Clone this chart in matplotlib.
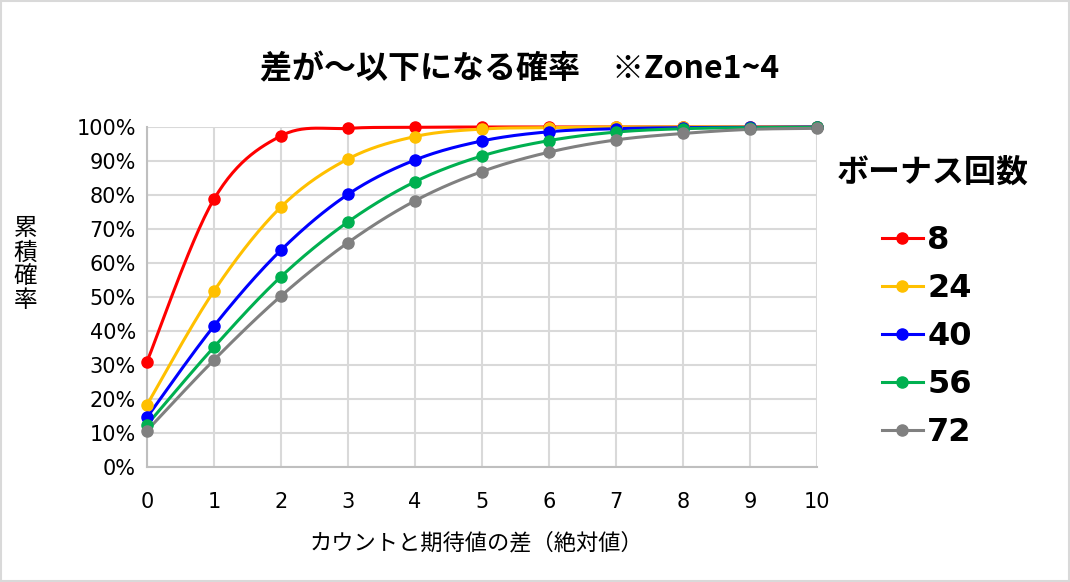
import numpy as np
import matplotlib
matplotlib.use('Agg')
import matplotlib.pyplot as plt
from matplotlib.patches import Rectangle

plt.rcParams['font.family'] = ['Noto Sans CJK JP', 'DejaVu Sans']

diff = [0, 1, 2, 3, 4, 5, 6, 7, 8, 9, 10]
bonus_counts = ['8', '24', '40', '56', '72']
prob_8 = [31.0, 78.8, 97.4, 99.6, 99.9, 100.0, 100.0, 100.0, 100.0, 100.0, 100.0]
prob_24 = [18.3, 51.8, 76.5, 90.6, 97.2, 99.4, 99.8, 100.0, 100.0, 100.0, 100.0]
prob_40 = [14.6, 41.5, 63.8, 80.2, 90.3, 95.9, 98.6, 99.5, 99.8, 99.9, 100.0]
prob_56 = [12.4, 35.3, 56.0, 72.1, 83.9, 91.5, 96.0, 98.5, 99.5, 99.8, 99.9]
prob_72 = [10.7, 31.5, 50.3, 66.0, 78.3, 86.9, 92.6, 96.2, 98.1, 99.3, 99.6]
colors = ['#ff0000', '#ffc000', '#0000ff', '#00b050', '#808080']


def smooth(xs, ys, n=30):
    # Excel-like smoothed line (Catmull-Rom bezier through the points)
    p = np.column_stack([xs, ys]).astype(float)
    p = np.vstack([p[0], p, p[-1]])
    out = []
    t = np.linspace(0, 1, n)[:, None]
    for i in range(1, len(p) - 2):
        p0, p1, p2, p3 = p[i - 1], p[i], p[i + 1], p[i + 2]
        c1 = p1 + (p2 - p0) / 6
        c2 = p2 - (p3 - p1) / 6
        seg = ((1 - t) ** 3) * p1 + 3 * ((1 - t) ** 2) * t * c1 + 3 * (1 - t) * t ** 2 * c2 + t ** 3 * p2
        out.append(seg)
    out = np.vstack(out)
    return out[:, 0], out[:, 1]


fig = plt.figure(figsize=(10.7, 5.82), dpi=100)
ax = fig.add_axes([0.1374, 0.1976, 0.6262, 0.5842])

series = [prob_8, prob_24, prob_40, prob_56, prob_72]
handles = []
for vals, col, lab in zip(series, colors, bonus_counts):
    sx, sy = smooth(diff, vals)
    ax.plot(sx, sy, color=col, lw=2.2, zorder=3, clip_on=False)
    ax.plot(diff, vals, 'o', color=col, ms=8, zorder=4, clip_on=False)
    h, = ax.plot([], [], color=col, lw=2.2, marker='o', ms=8, label=lab)
    handles.append(h)

ax.set_xlim(0, 10)
ax.set_ylim(0, 100)
ax.set_xticks(diff)
ax.set_yticks(range(0, 101, 10))
ax.set_yticklabels([f'{v}%' for v in range(0, 101, 10)])
for lab in ax.get_xticklabels() + ax.get_yticklabels():
    lab.set_family('DejaVu Sans')
    lab.set_fontsize(15)
ax.tick_params(length=0)
ax.tick_params(axis='y', pad=8)
ax.tick_params(axis='x', pad=18)
ax.grid(True, color='#d9d9d9', lw=1.5)
ax.set_axisbelow(True)
for s in ['top', 'right']:
    ax.spines[s].set_visible(False)
for s in ['left', 'bottom']:
    ax.spines[s].set_color('#bfbfbf')
    ax.spines[s].set_linewidth(1.5)

fig.text(0.486, 0.88, '差が～以下になる確率　※Zone1~4', ha='center', va='center',
         fontsize=23, fontweight='bold')
fig.text(0.024, 0.545, '累\n積\n確\n率', ha='center', va='center', fontsize=17, linespacing=1.05)
fig.text(0.445, 0.067, 'カウントと期待値の差（絶対値）', ha='center', va='center', fontsize=16)
fig.text(0.872, 0.703, 'ボーナス回数', ha='center', va='center', fontsize=23, fontweight='bold')

leg = fig.legend(handles=handles, loc='upper left', bbox_to_anchor=(0.824, 0.613),
                 frameon=False, handlelength=1.28, handletextpad=0.15, labelspacing=0.53,
                 borderpad=0, borderaxespad=0,
                 prop={'size': 23, 'weight': 'bold', 'family': 'DejaVu Sans'})

fig.patches.append(Rectangle((0.001, 0.001), 0.998, 0.997, transform=fig.transFigure,
                             fill=False, edgecolor='#d9d9d9', lw=1.5))

fig.savefig('out.png', dpi=100)
